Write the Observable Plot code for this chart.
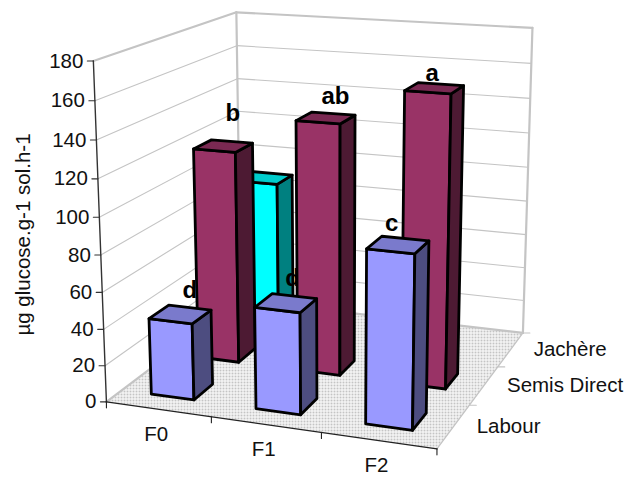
<!DOCTYPE html>
<html>
<head>
<meta charset="utf-8">
<script src="https://cdn.jsdelivr.net/npm/d3@7"></script>
<script src="https://cdn.jsdelivr.net/npm/@observablehq/plot@0.6"></script>
<style>
  html, body { margin: 0; padding: 0; background: #fff; }
</style>
</head>
<body>
<div id="chart"></div>
<script>
// Enzyme activity by fertilisation level (F0–F2) and land management.
const categories = ["F0", "F1", "F2"];
const series = ["Labour", "Semis Direct", "Jachère"];
const labourValues = [42, 55, 92];
const semisDirectValues = [120, 140, 160];
const jachereValues = [88, null, null];
const labourLetters = ["d", "d", "c"];
const semisDirectLetters = ["b", "ab", "a"];
const valueTicks = [0, 20, 40, 60, 80, 100, 120, 140, 160, 180];
const yTitle = "µg glucose.g-1 sol.h-1";

// Letter placement relative to each bar's top, in pixels.
const labourLetterOffsets = [[9, -24], [6, -25], [-7, -22]];
const semisDirectLetterOffsets = [[9, -33], [9, -22], [-3, -15]];

const WIDTH = 627, HEIGHT = 477;
const GRID = "#c4c4c4", BLACK = "#111";

// Camera: control points (category, depth, value) -> page position, fitted
// to a projective 3x4 matrix by least squares.
const camera = [
  [0, 0, 0, 105.7, 401], [0, 0, 100, 99.3, 216.7], [0, 0, 180, 93.3, 60.3],
  [1, 0, 0, 210.3, 416.7], [2, 0, 0, 320.7, 432.3], [3, 0, 0, 436.7, 448],
  [3, 1, 0, 468.7, 405], [3, 2, 0, 497.3, 366], [3, 3, 0, 522.3, 332.3],
  [3, 3, 100, 527.5, 166.7], [3, 3, 180, 532.3, 27.7],
  [0, 3, 0, 241, 300], [0, 3, 180, 235, 11.7]
];

function solve(A, b) {
  const n = b.length, M = A.map((r, i) => [...r, b[i]]);
  for (let i = 0; i < n; i++) {
    let p = i;
    for (let r = i + 1; r < n; r++) if (Math.abs(M[r][i]) > Math.abs(M[p][i])) p = r;
    [M[i], M[p]] = [M[p], M[i]];
    for (let r = 0; r < n; r++) {
      if (r === i) continue;
      const f = M[r][i] / M[i][i];
      for (let c = i; c <= n; c++) M[r][c] -= f * M[i][c];
    }
  }
  return M.map((r, i) => r[n] / r[i]);
}

const P = (() => {
  const rows = [], rhs = [];
  for (const [u, v, w0, x, y] of camera) {
    const w = w0 / 60;
    rows.push([u, v, w, 1, 0, 0, 0, 0, -x * u, -x * v, -x * w]); rhs.push(x);
    rows.push([0, 0, 0, 0, u, v, w, 1, -y * u, -y * v, -y * w]); rhs.push(y);
  }
  const AtA = d3.range(11).map(i => d3.range(11).map(j => d3.sum(rows, r => r[i] * r[j])));
  const Atb = d3.range(11).map(i => d3.sum(rows, (r, k) => r[i] * rhs[k]));
  return solve(AtA, Atb);
})();

function project(u, v, value) {
  const w = value / 60;
  const d = P[8] * u + P[9] * v + P[10] * w + 1;
  return [(P[0] * u + P[1] * v + P[2] * w + P[3]) / d, (P[4] * u + P[5] * v + P[6] * w + P[7]) / d];
}

const px = d => d[0], py = d => d[1];
const N = categories.length, D = series.length, TOP = d3.max(valueTicks);

const polygon = (pts, fill, extra = {}) =>
  Plot.line(pts, {x: px, y: py, curve: "linear-closed", fill, stroke: "none", ...extra});
const segment = (a, b, stroke, strokeWidth) =>
  Plot.line([a, b], {x: px, y: py, stroke, strokeWidth, strokeLinecap: "round"});
const nudge = ([x, y], dx, dy) => [x + dx, y + dy];

// A bar: front, top and right faces of a box standing on the floor.
const BAR_U = [0.287, 0.7], BAR_V = [0.3, 0.7];
function bar(cat, depth, value, front, top, side) {
  const u0 = cat + BAR_U[0], u1 = cat + BAR_U[1], v0 = depth + BAR_V[0], v1 = depth + BAR_V[1];
  const edge = {stroke: "#000", strokeWidth: 2.8, strokeLinejoin: "round"};
  return [
    polygon([project(u0, v0, 0), project(u1, v0, 0), project(u1, v0, value), project(u0, v0, value)], front, edge),
    polygon([project(u1, v0, 0), project(u1, v1, 0), project(u1, v1, value), project(u1, v0, value)], side, edge),
    polygon([project(u0, v0, value), project(u1, v0, value), project(u1, v1, value), project(u0, v1, value)], top, edge)
  ];
}
const barsOf = (values, depth, front, top, side) =>
  values.flatMap((value, i) => value == null ? [] : bar(i, depth, value, front, top, side));

const lettersOf = (letters, values, depth, offsets) =>
  letters.map((text, i) => {
    const p = project(i + 0.5, depth + 0.5, values[i]);
    return Plot.text([text], {
      x: () => p[0], y: () => p[1], text: d => d, dx: offsets[i][0], dy: offsets[i][1],
      fontSize: 24, fontWeight: "bold", fill: "#000"
    });
  });

// Stippled floor texture.
const floorPattern = () => {
  const svg = d3.create("svg:g");
  const pattern = svg.append("defs").append("pattern")
    .attr("id", "floor-dots").attr("width", 3).attr("height", 3).attr("patternUnits", "userSpaceOnUse");
  pattern.append("rect").attr("width", 3).attr("height", 3).attr("fill", "#fff");
  pattern.append("rect").attr("width", 2).attr("height", 2).attr("fill", "#c4c4c4");
  return svg.node();
};

const marks = [
  floorPattern,
  polygon([project(0, 0, 0), project(N, 0, 0), project(N, D, 0), project(0, D, 0)], "url(#floor-dots)"),

  // Wall gridlines
  ...valueTicks.slice(1, -1).flatMap(t => [
    segment(project(0, 0, t), project(0, D, t), GRID, 1.1),
    segment(project(0, D, t), project(N, D, t), GRID, 1.1)
  ]),

  // Wall frame
  segment(project(0, 0, TOP), project(0, D, TOP), GRID, 2.2),
  segment(project(0, D, TOP), project(N, D, TOP), GRID, 2.2),
  segment(project(0, D, 0), project(0, D, TOP), GRID, 2.2),
  segment(project(N, D, 0), project(N, D, TOP), GRID, 2.2),
  segment(project(0, 0, 0), project(0, D, 0), GRID, 2.2),
  segment(project(0, D, 0), project(N, D, 0), GRID, 2.2),
  segment(project(N, 0, 0), project(N, D, 0), GRID, 1.3),

  // Depth ticks and labels
  ...d3.range(1, D + 1).map(v => segment(project(N, v, 0), nudge(project(N, v, 0), 7, 0), GRID, 1.1)),
  Plot.text(series.map((text, v) => ({text, p: project(N, v + 0.5, 0)})), {
    x: d => d.p[0], y: d => d.p[1], text: "text", dx: 23, textAnchor: "start", fontSize: 20.5, fill: BLACK
  }),

  // Value axis
  segment(project(0, 0, 0), project(0, 0, TOP), "#333", 1.4),
  ...valueTicks.map(t => segment(project(0, 0, t), nudge(project(0, 0, t), -6, 0), "#333", 1.1)),
  Plot.text(valueTicks, {
    x: t => project(0, 0, t)[0], y: t => project(0, 0, t)[1], text: t => String(t),
    dx: -10, textAnchor: "end", fontSize: 20.5, fill: BLACK
  }),
  Plot.text([yTitle], {
    x: () => 23, y: () => 234, text: d => d, rotate: -90, fontSize: 20.5, fill: BLACK
  }),

  // Category axis
  segment(project(0, 0, 0), project(N, 0, 0), "#222", 1.4),
  ...d3.range(0, N + 1).map(u => segment(project(u, 0, 0), nudge(project(u, 0, 0), 0, 6), "#222", 1.1)),
  Plot.text(categories.map((text, u) => ({text, p: project(u + 0.5, 0, 0)}))
    , {x: d => d.p[0], y: d => d.p[1], text: "text", dx: -2, dy: 25, fontSize: 20.5, fill: BLACK}),

  // Bars, back to front; the Labour letters sit under the middle row of bars
  ...barsOf(jachereValues, 2, "#00ffff", "#00cccc", "#008080"),
  ...lettersOf(labourLetters, labourValues, 0, labourLetterOffsets),
  ...barsOf(semisDirectValues, 1, "#993366", "#7a2952", "#4d1a33"),
  ...lettersOf(semisDirectLetters, semisDirectValues, 1, semisDirectLetterOffsets),
  ...barsOf(labourValues, 0, "#9999ff", "#7a7acc", "#4d4d80")
];

const chart = Plot.plot({
  width: WIDTH, height: HEIGHT,
  margin: 0,
  x: {domain: [0, WIDTH], range: [0, WIDTH], axis: null},
  y: {domain: [0, HEIGHT], range: [0, HEIGHT], axis: null},
  style: {fontFamily: "'Liberation Sans', Arial, sans-serif", background: "#fff"},
  marks
});
document.getElementById("chart").appendChild(chart);
</script>
</body>
</html>
